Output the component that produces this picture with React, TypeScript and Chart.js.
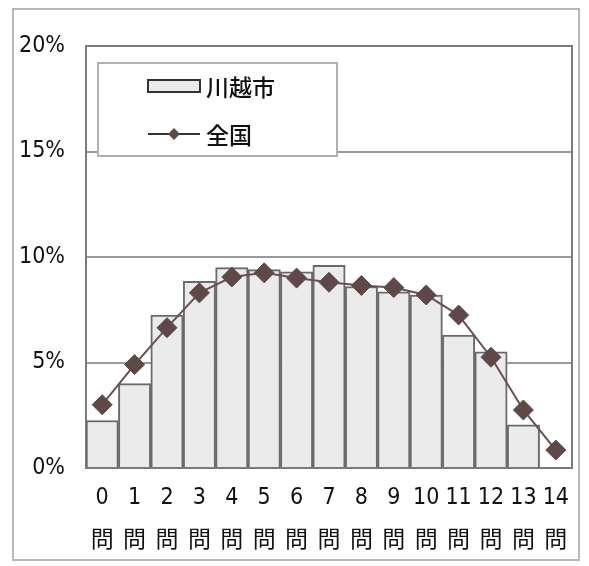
import React, { useEffect, useRef } from "react";
import { Chart, registerables } from "chart.js";

Chart.register(...registerables);

const categories = [
  ["0", "問"], ["1", "問"], ["2", "問"], ["3", "問"], ["4", "問"],
  ["5", "問"], ["6", "問"], ["7", "問"], ["8", "問"], ["9", "問"],
  ["10", "問"], ["11", "問"], ["12", "問"], ["13", "問"], ["14", "問"],
];
const kawagoe = [2.25, 4.0, 7.25, 8.85, 9.5, 9.4, 9.3, 9.6, 8.6, 8.35, 8.2, 6.3, 5.5, 2.05, 0];
const national = [3.0, 4.9, 6.65, 8.3, 9.05, 9.25, 9.0, 8.8, 8.65, 8.55, 8.2, 7.25, 5.25, 2.75, 0.85];
const yTicks = [0, 5, 10, 15, 20];

const BAR_FILL = "#ebebeb";
const BAR_EDGE = "#6a6a6a";
const LINE_COLOR = "#6a5050";
const MARK_COLOR = "#5e4848";
const FONT = '"DejaVu Sans Condensed", "Noto Sans CJK JP", sans-serif';

// Frame around the plot area, drawn beneath the datasets
const framePlugin = {
  id: "plotFrame",
  beforeDatasetsDraw(chart: any) {
    const { ctx, chartArea: a } = chart;
    ctx.save();
    ctx.strokeStyle = "#7a7a7a";
    ctx.lineWidth = 2;
    ctx.strokeRect(a.left, a.top, a.right - a.left, a.bottom - a.top);
    ctx.restore();
  },
};

// Boxed legend placed inside the top-left of the plot area
const legendPlugin = {
  id: "innerLegend",
  afterDraw(chart: any) {
    const { ctx, chartArea: a } = chart;
    const x = a.left + 12;
    const y = a.top + 17;
    const w = 239;
    const h = 93;
    ctx.save();
    ctx.fillStyle = "#ffffff";
    ctx.fillRect(x, y, w, h);
    ctx.strokeStyle = "#b0b0b0";
    ctx.lineWidth = 2;
    ctx.strokeRect(x, y, w, h);

    // bar swatch
    ctx.fillStyle = BAR_FILL;
    ctx.fillRect(x + 50, y + 17, 52, 12);
    ctx.strokeStyle = "#333333";
    ctx.lineWidth = 2;
    ctx.strokeRect(x + 50, y + 17, 52, 12);

    // line swatch with diamond
    const ly = y + 71;
    ctx.strokeStyle = "#333333";
    ctx.lineWidth = 2;
    ctx.beginPath();
    ctx.moveTo(x + 50, ly);
    ctx.lineTo(x + 102, ly);
    ctx.stroke();
    ctx.fillStyle = MARK_COLOR;
    ctx.beginPath();
    ctx.moveTo(x + 76, ly - 6);
    ctx.lineTo(x + 82, ly);
    ctx.lineTo(x + 76, ly + 6);
    ctx.lineTo(x + 70, ly);
    ctx.closePath();
    ctx.fill();

    ctx.fillStyle = "#111111";
    ctx.font = `500 23px "Noto Sans CJK JP", sans-serif`;
    ctx.textBaseline = "middle";
    ctx.textAlign = "left";
    ctx.fillText(chart.data.datasets[1].label, x + 108, y + 24);
    ctx.fillText(chart.data.datasets[0].label, x + 108, ly + 1);
    ctx.restore();
  },
};

export default function App() {
  const ref = useRef<HTMLCanvasElement | null>(null);

  useEffect(() => {
    if (!ref.current) return;
    const chart = new Chart(ref.current, {
      type: "bar",
      data: {
        labels: categories,
        datasets: [
          {
            type: "line",
            label: "全国",
            data: national,
            borderColor: LINE_COLOR,
            borderWidth: 2,
            pointStyle: "rectRot",
            pointRadius: 10,
            pointBackgroundColor: MARK_COLOR,
            pointBorderColor: MARK_COLOR,
            pointBorderWidth: 1,
            tension: 0,
            order: 0,
          },
          {
            type: "bar",
            label: "川越市",
            data: kawagoe,
            backgroundColor: BAR_FILL,
            borderColor: BAR_EDGE,
            borderWidth: 2,
            categoryPercentage: 1,
            barPercentage: 1,
            order: 1,
          },
        ],
      },
      options: {
        animation: false,
        responsive: false,
        layout: { padding: { top: 46, right: 17, bottom: 0, left: 0 } },
        plugins: {
          legend: { display: false },
          tooltip: { enabled: false },
        },
        scales: {
          x: {
            grid: { display: false },
            border: { display: false },
            ticks: {
              color: "#111111",
              padding: 0,
              maxRotation: 0,
              autoSkip: false,
              font: { family: FONT, size: 23, lineHeight: 1.88 },
            },
            afterFit(axis: any) {
              axis.height = 98;
            },
          },
          y: {
            min: 0,
            max: 20,
            afterBuildTicks(axis: any) {
              axis.ticks = yTicks.map((v) => ({ value: v }));
            },
            border: { display: false },
            grid: {
              drawTicks: false,
              lineWidth: 2,
              color: (c: any) =>
                c.tick && (c.tick.value === 0 || c.tick.value === 20) ? "rgba(0,0,0,0)" : "#9a9a9a",
            },
            ticks: {
              color: "#111111",
              padding: 21,
              callback: (v: any) => `${v}%`,
              font: { family: FONT, size: 23 },
            },
            afterFit(axis: any) {
              axis.width = 86;
            },
          },
        },
      },
      plugins: [framePlugin, legendPlugin],
    });
    return () => chart.destroy();
  }, []);

  return (
    <div style={{ position: "absolute", left: 0, top: 0, width: 589, height: 566, background: "#fff" }}>
      <div
        style={{
          position: "absolute",
          left: 12,
          top: 8,
          width: 568,
          height: 553,
          border: "2px solid #b8b8b8",
          boxSizing: "border-box",
        }}
      />
      <canvas ref={ref} width={589} height={566} style={{ position: "absolute", left: 0, top: 0 }} />
    </div>
  );
}
